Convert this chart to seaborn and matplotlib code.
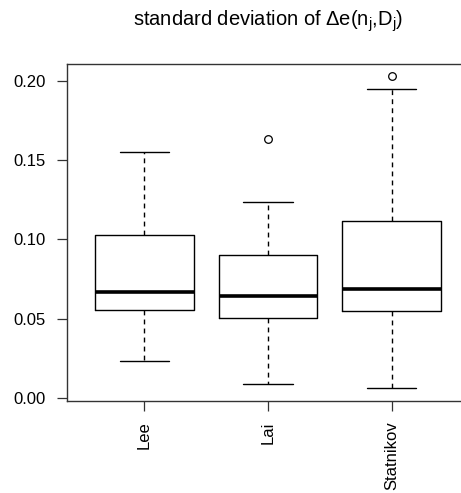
import matplotlib
matplotlib.use("Agg")
import matplotlib.pyplot as plt
import seaborn as sns

# five-number summaries
methods = ["Lee", "Lai", "Statnikov"]
whisker_low = [0.0230, 0.0085, 0.0060]
quart_low = [0.0555, 0.0505, 0.0545]
medians = [0.0667, 0.0643, 0.0686]
quart_high = [0.1028, 0.0903, 0.1117]
whisker_high = [0.1555, 0.1235, 0.1953]
outliers = [[], [0.1635], [0.2035]]

y_ticks = [0.00, 0.05, 0.10, 0.15, 0.20]

sns.set_style("ticks")
plt.rcParams["font.family"] = ["Liberation Sans", "DejaVu Sans"]
plt.rcParams["mathtext.fontset"] = "custom"
plt.rcParams["mathtext.rm"] = "Liberation Sans"
plt.rcParams["text.color"] = "black"

stats = []
for i, name in enumerate(methods):
    stats.append({
        "label": name,
        "whislo": whisker_low[i],
        "q1": quart_low[i],
        "med": medians[i],
        "q3": quart_high[i],
        "whishi": whisker_high[i],
        "fliers": outliers[i],
    })

fig = plt.figure(figsize=(4.61, 4.93), dpi=100)
ax = fig.add_axes([67 / 461, 92.3 / 493, 402 / 461, 336.7 / 493])

ax.bxp(
    stats,
    positions=[1, 2, 3],
    widths=0.8,
    capwidths=0.4,
    boxprops=dict(color="black", linewidth=1.0),
    medianprops=dict(color="black", linewidth=2.6, solid_capstyle="butt"),
    whiskerprops=dict(color="black", linewidth=1.0, linestyle=(0, (3.5, 3))),
    capprops=dict(color="black", linewidth=1.0),
    flierprops=dict(marker="o", markerfacecolor="none", markeredgecolor="black",
                    markersize=5.5, markeredgewidth=0.9),
)

ax.set_xlim(0.375, 3.625)
ax.set_ylim(-0.002, 0.211)
ax.set_yticks(y_ticks)
ax.set_yticklabels([f"{v:.2f}" for v in y_ticks])
ax.set_xticks([1, 2, 3])
ax.set_xticklabels(methods, rotation=90, va="top", ha="center")

for side in ["left", "top", "bottom"]:
    ax.spines[side].set_visible(True)
    ax.spines[side].set_color("#333333")
    ax.spines[side].set_linewidth(1.0)
ax.spines["right"].set_visible(False)

ax.tick_params(axis="both", direction="out", length=7.5, width=0.9,
               color="#333333", labelsize=12, labelcolor="black")
ax.tick_params(axis="y", pad=8)
ax.tick_params(axis="x", pad=7.5)

fig.text(268 / 461, 1 - 21 / 493,
         r"standard deviation of Δe(n$_\mathrm{j}$,D$_\mathrm{j}$)",
         ha="center", va="center", fontsize=14.5, color="black")

fig.savefig("out.png", dpi=100)
